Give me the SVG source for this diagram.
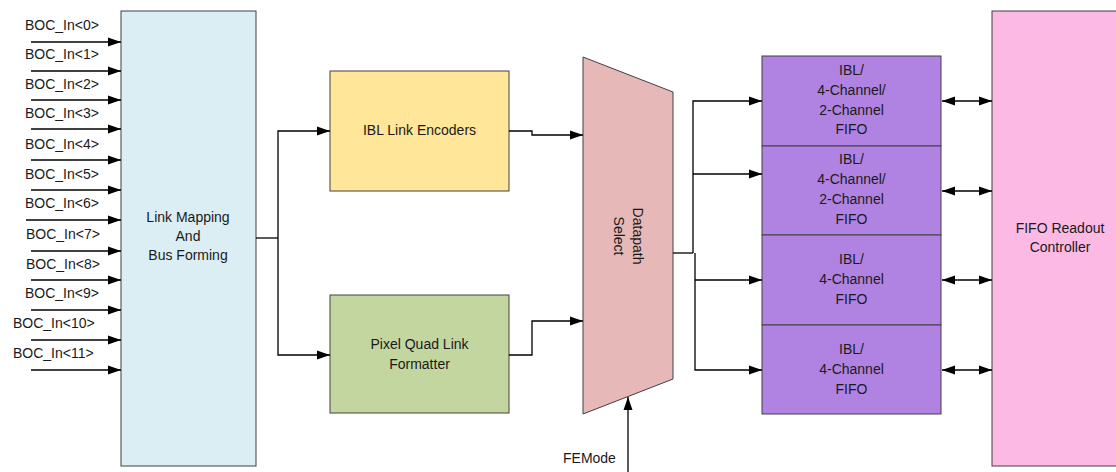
<svg xmlns="http://www.w3.org/2000/svg" width="1116" height="472" viewBox="0 0 1116 472">
<style>
.t{font-family:"Liberation Sans",Arial,sans-serif;font-size:14px;fill:#1a1a1a}
.c{text-anchor:middle}
.box{stroke:#404040;stroke-width:1}
.ln{fill:none;stroke:#000;stroke-width:1.3}
</style>
<defs>
<marker id="ah" markerUnits="userSpaceOnUse" markerWidth="15" markerHeight="10" refX="13" refY="5" orient="auto">
<path d="M0,0.5 L13,5 L0,9.5 Z" fill="#000"/>
</marker>
<marker id="as" markerUnits="userSpaceOnUse" markerWidth="15" markerHeight="10" refX="0" refY="5" orient="auto">
<path d="M13,0.5 L0,5 L13,9.5 Z" fill="#000"/>
</marker>
</defs>
<rect width="1116" height="472" fill="#fff"/>

<g id="inputs">
<text class="t" x="25" y="30">BOC_In&lt;0&gt;</text>
<text class="t" x="25" y="59">BOC_In&lt;1&gt;</text>
<text class="t" x="25" y="89">BOC_In&lt;2&gt;</text>
<text class="t" x="25" y="118">BOC_In&lt;3&gt;</text>
<text class="t" x="25" y="149">BOC_In&lt;4&gt;</text>
<text class="t" x="25" y="179">BOC_In&lt;5&gt;</text>
<text class="t" x="25" y="208">BOC_In&lt;6&gt;</text>
<text class="t" x="26" y="239">BOC_In&lt;7&gt;</text>
<text class="t" x="26" y="269">BOC_In&lt;8&gt;</text>
<text class="t" x="25" y="298">BOC_In&lt;9&gt;</text>
<text class="t" x="13" y="328">BOC_In&lt;10&gt;</text>
<text class="t" x="13" y="358">BOC_In&lt;11&gt;</text>
</g>

<g id="link-mapping">
<rect class="box" x="121" y="11" width="135" height="455" fill="#DAEEF3"/>
<text class="t c" x="188" y="222">Link Mapping</text>
<text class="t c" x="188" y="241">And</text>
<text class="t c" x="188" y="260">Bus Forming</text>
</g>

<g id="ibl-link-encoders">
<rect class="box" x="330" y="71" width="179" height="120" fill="#FFE699"/>
<text class="t c" x="419.5" y="135">IBL Link Encoders</text>
</g>

<g id="pixel-quad">
<rect class="box" x="330" y="295" width="179" height="118" fill="#C4D6A0"/>
<text class="t c" x="419.5" y="349">Pixel Quad Link</text>
<text class="t c" x="419.5" y="369">Formatter</text>
</g>

<g id="datapath-select">
<polygon class="box" points="583,57 673,92 673,379 583,414" fill="#E6B8B7"/>
<g transform="translate(628,236) rotate(90)">
<text class="t c" x="0" y="-5">Datapath</text>
<text class="t c" x="0" y="14">Select</text>
</g>
</g>

<g id="femode">
<text class="t" x="563" y="463">FEMode</text>
</g>

<g id="fifo1">
<rect class="box" x="762" y="56" width="179" height="90" fill="#B083E2"/>
<text class="t c" x="851.5" y="75">IBL/</text>
<text class="t c" x="851.5" y="95">4-Channel/</text>
<text class="t c" x="851.5" y="115">2-Channel</text>
<text class="t c" x="851.5" y="134">FIFO</text>
</g>
<g id="fifo2">
<rect class="box" x="762" y="146" width="179" height="89" fill="#B083E2"/>
<text class="t c" x="851.5" y="164">IBL/</text>
<text class="t c" x="851.5" y="184">4-Channel/</text>
<text class="t c" x="851.5" y="204">2-Channel</text>
<text class="t c" x="851.5" y="224">FIFO</text>
</g>
<g id="fifo3">
<rect class="box" x="762" y="235" width="179" height="90" fill="#B083E2"/>
<text class="t c" x="851.5" y="264">IBL/</text>
<text class="t c" x="851.5" y="284">4-Channel</text>
<text class="t c" x="851.5" y="304">FIFO</text>
</g>
<g id="fifo4">
<rect class="box" x="762" y="325" width="179" height="89" fill="#B083E2"/>
<text class="t c" x="851.5" y="354">IBL/</text>
<text class="t c" x="851.5" y="374">4-Channel</text>
<text class="t c" x="851.5" y="394">FIFO</text>
</g>

<g id="fifo-readout">
<rect class="box" x="992" y="11" width="130" height="455" fill="#FBB9E4"/>
<text class="t c" x="1060" y="233">FIFO Readout</text>
<text class="t c" x="1060" y="252">Controller</text>
</g>

<g id="connectors">
<path class="ln" marker-end="url(#ah)" d="M31,42 H121"/>
<path class="ln" marker-end="url(#ah)" d="M31,71 H121"/>
<path class="ln" marker-end="url(#ah)" d="M31,100 H121"/>
<path class="ln" marker-end="url(#ah)" d="M31,129 H121"/>
<path class="ln" marker-end="url(#ah)" d="M31,160 H121"/>
<path class="ln" marker-end="url(#ah)" d="M31,190 H121"/>
<path class="ln" marker-end="url(#ah)" d="M26,220 H121"/>
<path class="ln" marker-end="url(#ah)" d="M31,251 H121"/>
<path class="ln" marker-end="url(#ah)" d="M31,280 H121"/>
<path class="ln" marker-end="url(#ah)" d="M31,310 H121"/>
<path class="ln" marker-end="url(#ah)" d="M31,340 H121"/>
<path class="ln" marker-end="url(#ah)" d="M31,370 H121"/>

<path class="ln" d="M256,238 H278"/>
<path class="ln" marker-end="url(#ah)" d="M278,238 V131 H330"/>
<path class="ln" marker-end="url(#ah)" d="M278,238 V355 H330"/>

<path class="ln" marker-end="url(#ah)" d="M509,131 H532 V135 H583"/>
<path class="ln" marker-end="url(#ah)" d="M509,355 H532 V321 H583"/>

<path class="ln" marker-end="url(#ah)" d="M628,472 V397"/>

<path class="ln" d="M673,253 H693"/>
<path class="ln" marker-end="url(#ah)" d="M693,253 V101 H762"/>
<path class="ln" marker-end="url(#ah)" d="M693,174 H762"/>
<path class="ln" marker-end="url(#ah)" d="M695,253 V370 H762"/>
<path class="ln" marker-end="url(#ah)" d="M695,280 H762"/>

<path class="ln" marker-start="url(#as)" marker-end="url(#ah)" d="M942,101 H992"/>
<path class="ln" marker-start="url(#as)" marker-end="url(#ah)" d="M942,191 H992"/>
<path class="ln" marker-start="url(#as)" marker-end="url(#ah)" d="M942,280 H992"/>
<path class="ln" marker-start="url(#as)" marker-end="url(#ah)" d="M942,370 H992"/>
</g>
</svg>
